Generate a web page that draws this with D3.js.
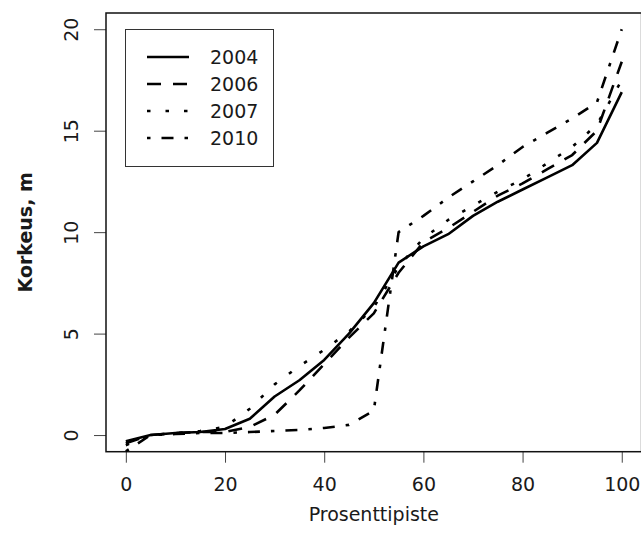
<!DOCTYPE html>
<html>
<head>
<meta charset="utf-8">
<script src="https://cdn.jsdelivr.net/npm/d3@7"></script>
<style>
  body { margin: 0; background: #fff; }
  svg { display: block; }
  text { font-family: "DejaVu Sans", sans-serif; fill: #1a1a1a; }
</style>
</head>
<body>
<div id="chart"></div>
<script>
//////////////////////// Data ////////////////////////////

//Percentile points (x axis)
var percentiles = [0,5,10,15,20,25,30,35,40,45,50,55,60,65,70,75,80,85,90,95,100];

//Height per percentile for each year
var h2004 = [-0.3,0.0,0.1,0.15,0.3,0.8,1.9,2.7,3.7,5.0,6.5,8.5,9.3,9.9,10.8,11.5,12.1,12.7,13.3,14.4,16.9];
var h2006 = [-0.4,0.0,0.1,0.15,0.15,0.4,1.0,2.2,3.5,4.8,6.0,8.0,9.5,10.2,11.0,11.8,12.4,13.1,13.8,15.0,18.4];
var h2007 = [-0.5,0.0,0.1,0.2,0.4,1.3,2.5,3.4,4.2,5.1,6.3,8.3,9.7,10.6,11.3,12.0,12.6,13.4,14.2,15.3,17.5];
var h2010 = [-0.8,0.0,0.05,0.1,0.1,0.15,0.2,0.25,0.35,0.5,1.2,10.0,10.8,11.7,12.5,13.3,14.2,14.9,15.6,16.4,20.0];

var years = ["2004","2006","2007","2010"];
var xTicks = [0,20,40,60,80,100];
var yTicks = [0,5,10,15,20];

//Line styles per year
var dashes = { "2004": null, "2006": "14,12", "2007": "3.5,15", "2010": "3.5,11,12,11" };

var series = [
	{year: "2004", values: h2004},
	{year: "2006", values: h2006},
	{year: "2007", values: h2007},
	{year: "2010", values: h2010}
];

//////////////////////// Set-up ////////////////////////////

var width = 641, height = 542;
var plot = {left: 106, right: 641.6, top: 13, bottom: 451.7};

var x = d3.scaleLinear().domain([-4, 104]).range([plot.left, plot.right]);
var y = d3.scaleLinear().domain([-0.82, 20.8]).range([plot.bottom, plot.top]);

var svg = d3.select("#chart").append("svg")
	.attr("width", width)
	.attr("height", height);

svg.append("defs").append("clipPath").attr("id", "clip")
  .append("rect")
	.attr("x", plot.left).attr("y", plot.top)
	.attr("width", plot.right - plot.left).attr("height", plot.bottom - plot.top);

//////////////////////// Axes ////////////////////////////

var xAxis = svg.append("g")
	.attr("transform", "translate(0," + plot.bottom + ")")
	.call(d3.axisBottom(x).tickValues(xTicks).tickSize(11).tickPadding(26));
xAxis.select(".domain").remove();
xAxis.selectAll("line").attr("stroke", "#444");
xAxis.selectAll("text")
	.attr("dy", null)
	.attr("y", 39.5)
	.style("font-size", "19px")
	.style("font-family", "DejaVu Sans, sans-serif");

var yAxis = svg.append("g")
	.attr("transform", "translate(" + plot.left + ",0)")
	.call(d3.axisLeft(y).tickValues(yTicks).tickSize(12));
yAxis.select(".domain").remove();
yAxis.selectAll("line").attr("stroke", "#444");
yAxis.selectAll("text")
	.attr("x", null).attr("dy", null)
	.attr("text-anchor", "middle")
	.attr("transform", "translate(-28,0) rotate(-90)")
	.style("font-size", "19px")
	.style("font-family", "DejaVu Sans, sans-serif");

//Plot box
svg.append("rect")
	.attr("x", plot.left).attr("y", plot.top)
	.attr("width", plot.right - plot.left).attr("height", plot.bottom - plot.top)
	.attr("fill", "none").attr("stroke", "#111").attr("stroke-width", 1.5);

//Axis titles
svg.append("text")
	.attr("x", (plot.left + plot.right) / 2)
	.attr("y", 521)
	.attr("text-anchor", "middle")
	.style("font-size", "19px")
	.text("Prosenttipiste");

svg.append("text")
	.attr("transform", "translate(32," + ((plot.top + plot.bottom) / 2) + ") rotate(-90)")
	.attr("text-anchor", "middle")
	.style("font-size", "19px")
	.style("font-weight", "bold")
	.text("Korkeus, m");

//////////////////////// Lines ////////////////////////////

var line = d3.line()
	.x(function(d, i) { return x(percentiles[i]); })
	.y(function(d) { return y(d); });

svg.append("g").attr("clip-path", "url(#clip)")
	.selectAll("path")
	.data(series)
	.enter().append("path")
	.attr("d", function(d) { return line(d.values); })
	.attr("fill", "none")
	.attr("stroke", "#000")
	.attr("stroke-width", 2.6)
	.attr("stroke-linejoin", "round")
	.attr("stroke-dasharray", function(d) { return dashes[d.year]; });

//////////////////////// Legend ////////////////////////////

var legend = svg.append("g");
legend.append("rect")
	.attr("x", 125.5).attr("y", 29.5)
	.attr("width", 148).attr("height", 137)
	.attr("fill", "#fff").attr("stroke", "#333").attr("stroke-width", 1);

var rows = legend.selectAll(".row")
	.data(years)
	.enter().append("g")
	.attr("transform", function(d, i) { return "translate(0," + (57 + i * 27) + ")"; });

rows.append("line")
	.attr("x1", 147).attr("x2", 189)
	.attr("stroke", "#000").attr("stroke-width", 2.6)
	.attr("stroke-dasharray", function(d) { return dashes[d]; });

rows.append("text")
	.attr("x", 210)
	.attr("dy", "0.36em")
	.style("font-size", "19px")
	.text(function(d) { return d; });
</script>
</body>
</html>
